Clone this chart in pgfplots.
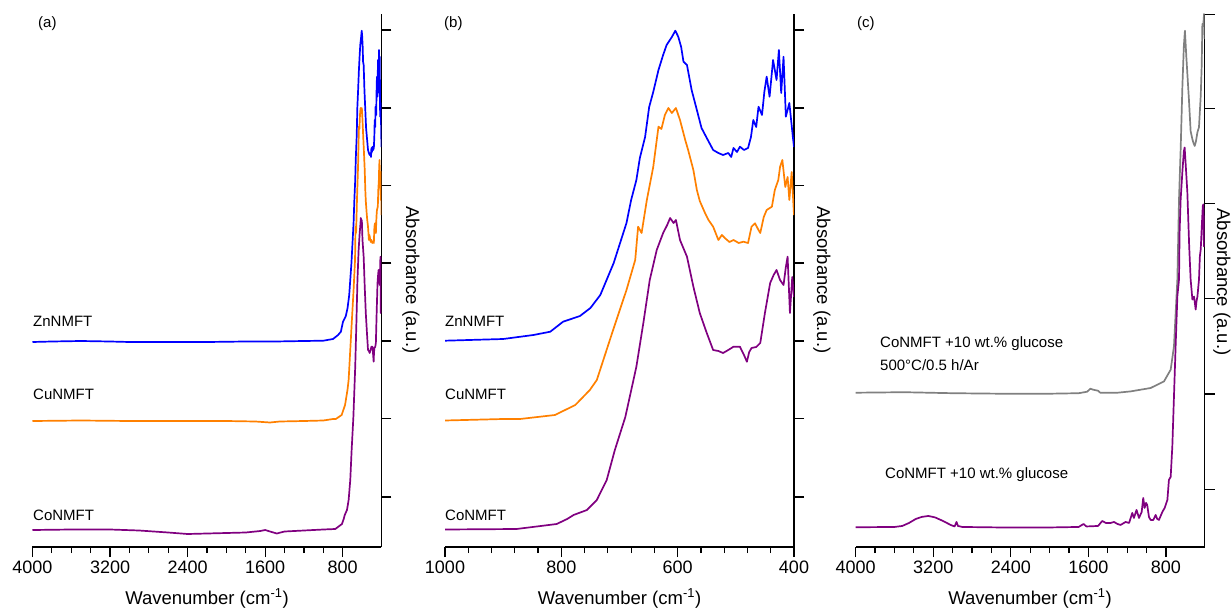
\documentclass[border=0pt]{standalone}
\usepackage{fontspec}
\setmainfont{Liberation Sans}
\usepackage{pgfplots}
\pgfplotsset{compat=1.18}
\usepackage{pgfplotstable}

\definecolor{cblue}{RGB}{0,0,255}
\definecolor{corange}{RGB}{255,128,0}
\definecolor{cpurple}{RGB}{128,0,128}
\definecolor{cgray}{RGB}{128,128,128}

\pgfplotstableread{
wn h
4000 205
3800 205.5
3500 206
3200 205.5
3000 205
2600 205
2200 205
1800 205.5
1500 205.5
1200 206
1000 206.3
900 208
848 212
819 215.3
797 225.3
768 231
750 239
733 252
710 284
688 324
680 347
671 367
665 389
656 410
649 440
642 455
633 477
625 492
619 502
610 510
604 516.3
599 510.3
594 500
590 485.3
584 482
576 457
567 437
559 419
550 409
539 397
530 394
522 392
513 394
508 390
504 399
498 395
493 400.3
486 397
479 399
474 410
470 427
465 420
461 440.3
455 432
451 455
447 470.3
442 450.3
436 487
430 467
426 497
422 454
418 490.3
414 430.3
408 444
402 410.3
400 400
}\zn

\pgfplotstableread{
wn h
4000 126
3500 126.5
3000 126
2500 126
2000 126
1700 125.5
1550 124.5
1450 125.5
1200 126
1000 126.5
900 128
871 128
811 132
776 142
751 157
739 167
711 217
688 257
673 287
668 320.3
662 314
653 347
642 380
633 420.3
628 418
622 432
616 439
610 434
603 439
596 427
587 407
582 397
573 377
567 357
562 346
553 334
547 327
539 320.3
530 307
524 312
519 309
511 305
504 307
495 304
487 305.3
479 304
473 320.3
467 323.7
462 318
458 314
452 330
447 337
438 340.3
433 357
427 367
424 380
420 387
415 360
411 370
408 347
404 375
400 332
}\cu

\pgfplotstableread{
wn h
4000 17
3600 17.5
3200 17.5
2900 16.5
2600 14.5
2400 13
2200 13.5
2000 14
1800 14.5
1650 16
1600 17
1550 15.5
1480 13.5
1400 15.5
1200 16.5
1000 17.5
877 18
808 23
790 28
779 32
756 37
739 47
722 67
708 97
690 130
676 167
671 180.3
659 224
648 267
636 297
625 314
618 322
613 329
607 324
603 327
596 307
584 290.3
573 260.3
562 234
550 214
539 197
530 196
522 194
513 197
504 200.3
493 200.3
486 192
481 185.3
477 195
473 199
465 200
458 204
450 234
441 264
435 272
430 277
424 267
418 262
414 280
411 290.3
407 234
403 270
400 250
}\co

\pgfplotstableread{
wn h
4000 154
3500 154.5
3000 153.5
2500 153
2000 153
1700 153.5
1612 155
1580 158
1550 157
1500 156
1478 154
1300 154
1165 155.3
958 158.7
820 165.3
751 177
717 200.3
682 267
665 347
648 397
630 460.3
615 500
604 515.3
590 490
563 447
545 415
527 407
515 403
503 400.3
490 405
475 414
459 419
441 450.3
431 480.3
424 522
415 520
407 532
400 507
}\gly

\pgfplotstableread{
wn h
4000 19.7
3600 20
3520 21
3450 24
3380 28
3320 30
3250 31
3180 29.5
3100 26
3020 22
2980 20.5
2960 25
2945 21
2900 20
2500 19.5
2000 19.5
1700 20
1650 23
1620 20.5
1500 21
1457 26
1420 24
1370 24
1336 25
1300 23
1268 22
1216 25
1180 24
1147 34
1130 29
1103 37
1078 29
1050 35
1034 49
1020 39
1005 44
993 42
975 30
958 27
930 27
906 32
890 28
872 27
837 35
813 39
785 47
769 67
751 70
734 100.3
700 200.3
682 250.3
665 267
659 314
648 347
630 375
615 395
607 398.7
595 380
579 354
560 300
545 267
527 247
510 250
493 237
485 245
475 250
459 267
450 290
441 297
430 320
420 340
414 342
408 300
404 330
400 327
}\glu

\pgfplotsset{
  panel/.style={
    scale only axis, width=349pt, height=533pt,
    anchor=south west,
    axis x line*=bottom, axis y line*=right,
    x dir=reverse,
    ymin=0, ymax=533,
    tick align=outside,
    yticklabels={},
    major tick length=10pt, minor tick length=6pt,
    tick style={line width=1.2pt, black},
    axis line style={line width=1.5pt},
    xticklabel style={font=\fontsize{18}{20}\selectfont},
    every axis plot/.append style={line width=1.7pt, line join=round},
  }
}

\begin{document}
\begin{tikzpicture}
\useasboundingbox (0pt,0pt) rectangle (1231pt,614pt);

% (a)
\begin{axis}[panel, at={(32.5pt,67pt)},
  xmin=400, xmax=4000,
  xtick={4000,3200,2400,1600,800}, xticklabels={4000,3200,2400,1600,800},
  minor x tick num=3,
  ytick={50,128.5,206,284,361.5,439,517}]
\addplot[cblue] table[x=wn,y=h] {\zn};
\addplot[corange] table[x=wn,y=h] {\cu};
\addplot[cpurple] table[x=wn,y=h] {\co};
\end{axis}

% (b)
\begin{axis}[panel, at={(445pt,67pt)},
  xmin=400, xmax=1000,
  xtick={1000,800,600,400}, xticklabels={1000,800,600,400},
  minor x tick num=4,
  ytick={50,128.5,206,284,361.5,439,517}]
\addplot[cblue] table[x=wn,y=h] {\zn};
\addplot[corange] table[x=wn,y=h] {\cu};
\addplot[cpurple] table[x=wn,y=h] {\co};
\end{axis}

% (c)
\begin{axis}[panel, at={(855.7pt,67pt)},
  xmin=400, xmax=4000, ymax=532,
  xtick={4000,3200,2400,1600,800}, xticklabels={4000,3200,2400,1600,800},
  minor x tick num=3,
  ytick={57.7,152.7,247.7,342.7,437.7,531.5}]
\addplot[cgray] table[x=wn,y=h] {\gly};
\addplot[cpurple] table[x=wn,y=h] {\glu};
\end{axis}

\begin{scope}[font=\fontsize{18.5}{20}\selectfont]
\node[anchor=base] at (207pt,10pt) {Wavenumber (cm\textsuperscript{-1})};
\node[anchor=base] at (619.5pt,10pt) {Wavenumber (cm\textsuperscript{-1})};
\node[anchor=base] at (1030pt,10pt) {Wavenumber (cm\textsuperscript{-1})};
\node[rotate=-90] at (411pt,334pt) {Absorbance (a.u.)};
\node[rotate=-90] at (822pt,334pt) {Absorbance (a.u.)};
\node[rotate=-90] at (1222pt,332pt) {Absorbance (a.u.)};
\end{scope}

\begin{scope}[font=\fontsize{15}{16}\selectfont]
\node[anchor=base west, inner sep=0pt] at (38pt,586.5pt) {(a)};
\node[anchor=base west, inner sep=0pt] at (444pt,586.5pt) {(b)};
\node[anchor=base west, inner sep=0pt] at (857pt,586.5pt) {(c)};
\end{scope}

\begin{scope}[font=\fontsize{15}{17}\selectfont]
\node[anchor=base west, inner sep=0pt] at (33pt,287.3pt) {ZnNMFT};
\node[anchor=base west, inner sep=0pt] at (33pt,214.5pt) {CuNMFT};
\node[anchor=base west, inner sep=0pt] at (33pt,94pt) {CoNMFT};
\node[anchor=base west, inner sep=0pt] at (445pt,287.3pt) {ZnNMFT};
\node[anchor=base west, inner sep=0pt] at (445pt,214.5pt) {CuNMFT};
\node[anchor=base west, inner sep=0pt] at (445pt,94pt) {CoNMFT};
\node[anchor=base west, inner sep=0pt] at (880pt,267pt) {CoNMFT +10 wt.\% glucose};
\node[anchor=base west, inner sep=0pt] at (880pt,244pt) {500°C/0.5 h/Ar};
\node[anchor=base west, inner sep=0pt] at (885pt,136pt) {CoNMFT +10 wt.\% glucose};
\end{scope}
\end{tikzpicture}
\end{document}
